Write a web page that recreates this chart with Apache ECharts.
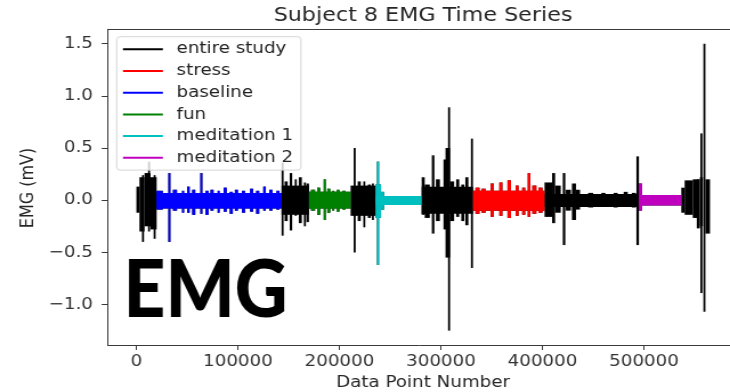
<!DOCTYPE html>
<html>
<head>
<meta charset="utf-8">
<script src="https://cdn.jsdelivr.net/npm/echarts@6/dist/echarts.min.js"></script>
<style>
html, body { margin: 0; padding: 0; overflow: hidden; background: #fff; }
#box { width: 640px; height: 392px; transform: scaleX(1.140625); transform-origin: 0 0; }
</style>
</head>
<body>
<div id="box"></div>
<script>
// study phases (data point ranges)
var segNames = ['entire study', 'stress', 'baseline', 'fun', 'meditation 1', 'meditation 2'];
var segStart = [0, 331600, 20000, 170000, 235500, 495000];
var segEnd = [565000, 402000, 143000, 211000, 281000, 536700];

// EMG envelope: [from, to, max mV, min mV]
var emgBlocks = [
    [0, 3000, 0.13, -0.12], [3000, 8000, 0.22, -0.30], [5500, 7500, 0.24, -0.40],
    [8000, 14000, 0.26, -0.25], [11500, 13500, 0.37, -0.30], [14000, 20000, 0.22, -0.28],
    [17000, 19000, 0.24, -0.37],
    // baseline
    [20000, 143000, 0.07, -0.08], [20000, 26000, 0.09, -0.09], [31500, 33500, 0.26, -0.40],
    [36000, 40000, 0.10, -0.10], [45000, 47000, 0.09, -0.12], [50000, 52500, 0.13, -0.12],
    [55000, 58000, 0.10, -0.14], [63000, 65000, 0.26, -0.13], [68000, 71000, 0.09, -0.14],
    [73000, 76000, 0.10, -0.10], [80000, 82000, 0.09, -0.12], [86000, 89000, 0.12, -0.11],
    [92000, 95000, 0.08, -0.13], [97000, 100000, 0.10, -0.10], [104000, 107000, 0.09, -0.12],
    [112000, 115000, 0.11, -0.11], [118000, 121000, 0.09, -0.13], [125000, 127500, 0.13, -0.10],
    [131000, 134000, 0.10, -0.10], [138000, 141000, 0.09, -0.09],
    [143000, 170000, 0.14, -0.14], [143000, 145000, 0.36, -0.34], [146000, 149000, 0.18, -0.20],
    [151000, 153500, 0.26, -0.29], [156000, 158000, 0.20, -0.15], [160000, 163000, 0.22, -0.22],
    [165000, 167000, 0.17, -0.25], [167500, 170000, 0.16, -0.21],
    // fun
    [170000, 211000, 0.08, -0.08], [172000, 176000, 0.10, -0.10], [178000, 181000, 0.12, -0.14],
    [184500, 186500, 0.20, -0.19], [188000, 191000, 0.11, -0.12], [193000, 195000, 0.09, -0.10],
    [197500, 200000, 0.10, -0.11], [203000, 206000, 0.09, -0.09],
    [211000, 235500, 0.14, -0.15], [214000, 216000, 0.50, -0.50], [218000, 221000, 0.18, -0.20],
    [223500, 225500, 0.18, -0.26], [228000, 231000, 0.15, -0.17], [232000, 234000, 0.16, -0.19],
    // meditation 1
    [235500, 281000, 0.04, -0.045], [235500, 241000, 0.15, -0.17], [237000, 239000, 0.37, -0.62],
    [241000, 244000, 0.08, -0.09],
    [281000, 331600, 0.13, -0.13], [281000, 284000, 0.22, -0.14], [284000, 289000, 0.15, -0.17],
    [291000, 293500, 0.43, -0.32], [295000, 299000, 0.20, -0.20], [302500, 305000, 0.39, -0.28],
    [304500, 309000, 0.50, -0.55], [307000, 309000, 0.89, -1.25], [309000, 313000, 0.18, -0.20],
    [315000, 318000, 0.20, -0.16], [320000, 323000, 0.15, -0.20], [324000, 327000, 0.22, -0.24],
    [329500, 331500, 0.59, -0.65],
    // stress
    [331600, 402000, 0.09, -0.10], [334000, 338000, 0.12, -0.13], [340000, 344000, 0.11, -0.12],
    [349000, 352000, 0.16, -0.16], [357500, 360500, 0.17, -0.15], [365500, 369000, 0.19, -0.17],
    [373500, 376500, 0.14, -0.15], [380000, 383000, 0.12, -0.14], [385500, 388000, 0.26, -0.16],
    [390000, 394000, 0.14, -0.13], [396000, 400000, 0.12, -0.12],
    [402000, 494000, 0.06, -0.065], [402000, 410000, 0.17, -0.16], [409500, 412500, 0.26, -0.22],
    [412500, 418000, 0.14, -0.12], [420000, 422500, 0.26, -0.43], [423000, 428000, 0.10, -0.10],
    [429000, 433000, 0.16, -0.19], [433000, 437000, 0.10, -0.09], [445000, 450000, 0.07, -0.07],
    [458000, 462000, 0.07, -0.06], [470000, 474000, 0.07, -0.07], [480000, 484000, 0.08, -0.06],
    [488000, 492000, 0.07, -0.07], [492500, 495000, 0.42, -0.43],
    // meditation 2
    [495000, 536700, 0.05, -0.05], [495000, 498000, 0.16, -0.10],
    [536700, 540000, 0.12, -0.12], [540000, 548000, 0.19, -0.14], [548000, 554000, 0.20, -0.17],
    [552000, 555000, 0.20, -0.27], [555000, 558000, 0.22, -0.25], [555500, 557500, 0.64, -0.89],
    [558500, 560500, 1.50, -1.07], [560500, 565000, 0.20, -0.32]
];

var xTicks = [0, 100000, 200000, 300000, 400000, 500000];
var yTicks = [-1.0, -0.5, 0.0, 0.5, 1.0, 1.5];

var colors = ['#000000', '#ff0000', '#0000ff', '#008000', '#00bfbf', '#bf00bf'];

function clipBlocks(i) {
    return emgBlocks
        .filter(function (b) { return b[1] > segStart[i] && b[0] < segEnd[i]; })
        .map(function (b) {
            return [Math.max(b[0], segStart[i]), Math.min(b[1], segEnd[i]), b[2], b[3]];
        });
}

function renderBlock(params, api) {
    var a = api.coord([api.value(0), api.value(2)]);
    var b = api.coord([api.value(1), api.value(3)]);
    return {
        type: 'rect',
        shape: { x: a[0], y: a[1], width: Math.max(b[0] - a[0], 1.3), height: b[1] - a[1] },
        style: api.style()
    };
}

var font = '"DejaVu Sans", sans-serif';
var spine = '#3a3a3a';
var myChart = echarts.init(document.getElementById('box'));

var option = {
    animation: false,
    grid: { left: 94.4, width: 553.2, top: 29.3, height: 315.7, outerBoundsMode: 'none' },
    legend: {
        orient: 'vertical', left: 102.3, top: 36.7,
        data: segNames.map(function (n) { return { name: n, icon: 'rect' }; }),
        itemWidth: 35, itemHeight: 2, itemGap: 5.7,
        padding: [4.6, 7, 4.3, 5.5],
        backgroundColor: 'rgba(255,255,255,0.8)', borderColor: '#d5d5d5', borderWidth: 1, borderRadius: 3,
        textStyle: { fontFamily: font, fontSize: 16, lineHeight: 16, color: '#222', padding: [0, 0, 0, 7] },
        selectedMode: false
    },
    xAxis: [{
        type: 'value', min: -28250, max: 593250,
        splitLine: { show: false },
        axisLine: { show: true, onZero: false, lineStyle: { color: spine } },
        axisTick: { show: true, length: 5, customValues: xTicks, lineStyle: { color: spine } },
        axisLabel: {
            customValues: xTicks, fontFamily: font, fontSize: 16, color: '#333', margin: 9,
            formatter: function (v) { return String(v); }
        }
    }, {
        // top spine only
        type: 'value', position: 'top', min: -28250, max: 593250,
        splitLine: { show: false }, axisTick: { show: false }, axisLabel: { show: false },
        axisLine: { show: true, onZero: false, lineStyle: { color: spine } }
    }],
    yAxis: {
        type: 'value', min: -1.3875, max: 1.6375,
        splitLine: { show: false },
        axisLine: { show: true, onZero: false, lineStyle: { color: spine } },
        axisTick: { show: true, length: 5.3, customValues: yTicks, lineStyle: { color: spine } },
        axisLabel: {
            customValues: yTicks, fontFamily: font, fontSize: 16, color: '#333', margin: 13,
            formatter: function (v) { return v.toFixed(1).replace('-', '\u2212'); }
        }
    },
    graphic: [
        { type: 'text', x: 370.9, y: 15.5, style: { text: 'Subject 8 EMG Time Series', font: '19.5px ' + font, fill: '#262626', align: 'center', verticalAlign: 'middle' } },
        { type: 'text', x: 370.9, y: 382.5, style: { text: 'Data Point Number', font: '16px ' + font, fill: '#262626', align: 'center', verticalAlign: 'middle' } },
        { type: 'text', x: 24.6, y: 188, rotation: Math.PI / 2, style: { text: 'EMG (mV)', font: '16px ' + font, fill: '#262626', align: 'center', verticalAlign: 'middle' } },
        { type: 'text', x: 108.2, y: 291, scaleX: 0.8, z: 100, style: { text: 'EMG', font: '900 80px Lato, sans-serif', fill: '#000', align: 'left', verticalAlign: 'middle' } }
    ],
    series: segNames.map(function (n, i) {
        return {
            type: 'custom', name: n, renderItem: renderBlock, silent: true, z: 2 + i,
            itemStyle: { color: colors[i] },
            encode: { x: [0, 1], y: [2, 3] },
            data: clipBlocks(i)
        };
    })
};

if (option && typeof option === "object") {
    myChart.setOption(option, true);
}
</script>
</body>
</html>
